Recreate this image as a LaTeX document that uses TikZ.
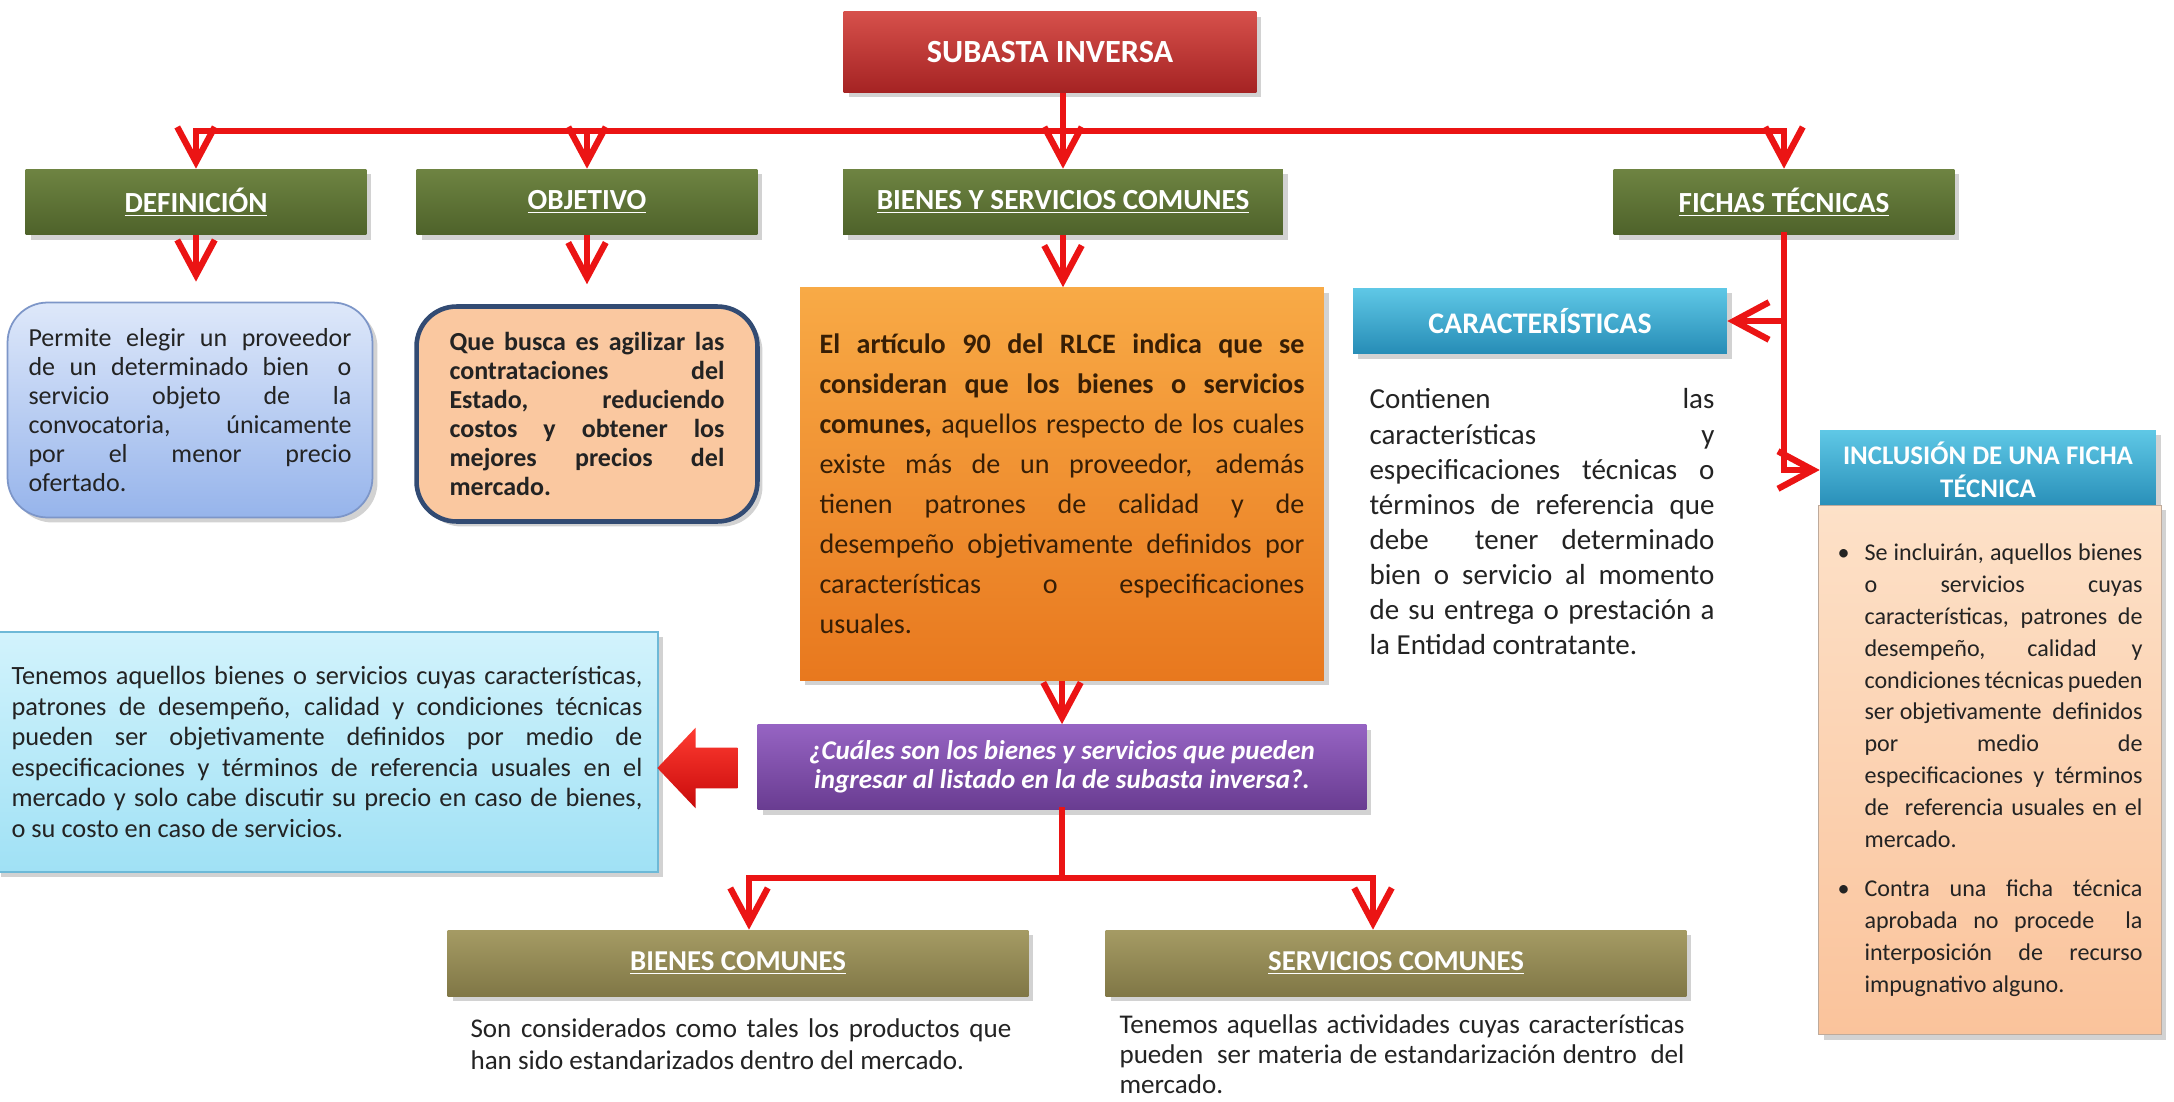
\documentclass[tikz,border=0pt]{standalone}
\usepackage{fontspec}
\setmainfont{Carlito}
\usepackage{tikz}
\usetikzlibrary{arrows.meta, shadows, shapes.arrows}

\definecolor{linkred}{RGB}{235,20,20}
\definecolor{subtop}{RGB}{214,80,75}
\definecolor{subbot}{RGB}{165,35,35}
\definecolor{olivetop}{RGB}{110,132,66}
\definecolor{olivebot}{RGB}{78,98,42}
\definecolor{khakitop}{RGB}{165,155,100}
\definecolor{khakibot}{RGB}{128,119,70}
\definecolor{bluetop}{RGB}{95,200,230}
\definecolor{bluebot}{RGB}{38,140,182}
\definecolor{permtop}{RGB}{222,232,250}
\definecolor{permbot}{RGB}{150,180,235}
\definecolor{permline}{RGB}{125,150,200}
\definecolor{quefill}{RGB}{250,200,160}
\definecolor{queline}{RGB}{50,75,115}
\definecolor{oratop}{RGB}{248,170,70}
\definecolor{orabot}{RGB}{232,120,30}
\definecolor{oratext}{RGB}{55,30,5}
\definecolor{paletop}{RGB}{253,225,200}
\definecolor{palebot}{RGB}{250,195,155}
\definecolor{paleline}{RGB}{190,170,155}
\definecolor{lbtop}{RGB}{210,243,252}
\definecolor{lbbot}{RGB}{160,225,245}
\definecolor{lbline}{RGB}{110,185,215}
\definecolor{purtop}{RGB}{150,100,195}
\definecolor{purbot}{RGB}{105,60,145}
\definecolor{blktop}{RGB}{255,60,50}
\definecolor{blkbot}{RGB}{200,10,10}
\definecolor{bodytext}{RGB}{35,35,35}

\begin{document}
\begin{tikzpicture}[x = 0.02cm, y = -0.02cm,
    box/.style = {draw=none, inner sep=0pt, drop shadow={shadow xshift=0.1cm, shadow yshift=-0.1cm, opacity=0.35}},
    title/.style = {box, text=white, align=center, minimum height=1.32cm, font=\fontsize{16.6pt}{19pt}\selectfont\bfseries},
    greenhead/.style = {title, top color=olivetop, bottom color=olivebot},
    khakihead/.style = {title, top color=khakitop, bottom color=khakibot, minimum width=11.62cm},
    bluehead/.style = {title, top color=bluetop, bottom color=bluebot},
    body/.style = {align=justify, text=bodytext, font=\fontsize{14.8pt}{16.5pt}\selectfont},
    link/.style = {draw=linkred, line width=3.6pt, -{Straight Barb[length=0.7cm, width=0.75cm]}},
    bar/.style = {draw=linkred, line width=3.6pt, line cap=rect}]
      \path [use as bounding box, fill=white] (0, 0) rectangle (2174, 1102);

      \node [title, top color=subtop, bottom color=subbot, minimum width=8.26cm, minimum height=1.62cm,
             font=\fontsize{18.4pt}{21pt}\selectfont\bfseries] (subasta) at (1050, 52) {SUBASTA INVERSA};

      \node [greenhead, minimum width=6.82cm] (def) at (196, 202) {\underline{DEFINICIÓN}};
      \node [greenhead, minimum width=6.82cm] (obj) at (587, 202) {\underline{OBJETIVO}};
      \node [greenhead, minimum width=8.8cm] (bys) at (1063, 202) {\underline{BIENES Y SERVICIOS COMUNES}};
      \node [greenhead, minimum width=6.82cm] (fic) at (1784, 202) {\underline{FICHAS TÉCNICAS}};

      \node [box, body, rounded corners=0.8cm, draw=permline, line width=1pt, top color=permtop, bottom color=permbot,
             minimum width=7.3cm, minimum height=4.3cm, text width=6.46cm] (perm) at (190, 410)
            {Permite elegir un proveedor\linebreak de un determinado bien\ \ o\linebreak servicio objeto de la\linebreak
             convocatoria, únicamente\linebreak por el menor precio\linebreak ofertado.};
      \node [box, body, rounded corners=0.8cm, draw=queline, line width=2.6pt, fill=quefill,
             minimum width=6.82cm, minimum height=4.3cm, text width=5.5cm,
             font=\fontsize{14.8pt}{16.5pt}\selectfont\bfseries] (que) at (587, 414)
            {Que busca es agilizar las\linebreak contrataciones del\linebreak Estado, reduciendo\linebreak
             costos y obtener los\linebreak mejores precios del\linebreak mercado.};
      \node [box, body, top color=oratop, bottom color=orabot, text=oratext,
             minimum width=10.48cm, minimum height=7.86cm, text width=9.7cm,
             font=\fontsize{16pt}{22.8pt}\selectfont] (ora) at (1062, 484)
            {\textbf{El artículo 90 del RLCE indica que se\linebreak consideran que los bienes o servicios\linebreak
             comunes,} aquellos respecto de los cuales\linebreak existe más de un proveedor, además\linebreak
             tienen patrones de calidad y de\linebreak desempeño objetivamente definidos por\linebreak
             características o especificaciones\linebreak usuales.};

      \node [bluehead, minimum width=7.48cm, font=\fontsize{17pt}{19pt}\selectfont\bfseries] (car) at (1540, 321) {CARACTERÍSTICAS};
      \node [body, text width=6.9cm, font=\fontsize{16.5pt}{20pt}\selectfont] (cont) at (1542, 522)
            {Contienen las\linebreak características y\linebreak especificaciones técnicas o\linebreak
             términos de referencia que\linebreak debe\ \ tener determinado\linebreak bien o servicio al momento\linebreak
             de su entrega o prestación a\linebreak la Entidad contratante.};

      \node [bluehead, minimum width=6.72cm, minimum height=1.6cm, font=\fontsize{15.3pt}{18.5pt}\selectfont\bfseries] (inc) at (1988, 470)
            {INCLUSIÓN DE UNA FICHA\\ TÉCNICA};
      \node [box, body, draw=paleline, line width=0.6pt, top color=paletop, bottom color=palebot,
             minimum width=6.86cm, minimum height=10.6cm, text width=6.1cm,
             font=\fontsize{13.7pt}{18.2pt}\selectfont] (fbody) at (1990, 770)
            {\makebox[0.54cm][l]{\textbullet}\parbox[t]{5.56cm}{Se incluirán, aquellos bienes\linebreak o servicios cuyas\linebreak
             características, patrones de\linebreak desempeño, calidad y\linebreak condiciones técnicas pueden\linebreak
             ser objetivamente\ \ definidos\linebreak por medio de\linebreak especificaciones y términos\linebreak
             de\ \ referencia usuales en el\linebreak mercado.}\par\vspace{0.6cm}
             \makebox[0.54cm][l]{\textbullet}\parbox[t]{5.56cm}{Contra una ficha técnica\linebreak aprobada no procede\ \ la\linebreak
             interposición de recurso\linebreak impugnativo alguno.}};

      \node [box, body, draw=lbline, line width=1pt, top color=lbtop, bottom color=lbbot,
             minimum width=13.24cm, minimum height=4.8cm, text width=12.62cm,
             font=\fontsize{15pt}{17.4pt}\selectfont] (lb) at (327, 752)
            {Tenemos aquellos bienes o servicios cuyas características,\linebreak patrones de desempeño, calidad y condiciones técnicas\linebreak
             pueden ser objetivamente definidos por medio de\linebreak especificaciones y términos de referencia usuales en el\linebreak
             mercado y solo cabe discutir su precio en caso de bienes,\linebreak o su costo en caso de servicios.};
      \node [shape=single arrow, shape border rotate=180, draw=none, top color=blktop, bottom color=blkbot,
             inner xsep=0pt, inner ysep=0.4cm, minimum width=1.6cm, minimum height=1.6cm, single arrow head extend=0.4cm,
             single arrow tip angle=93] (blk) at (707, 768) {};
      \node [title, top color=purtop, bottom color=purbot, minimum width=12.18cm, minimum height=1.7cm,
             font=\fontsize{15.4pt}{16.2pt}\selectfont\bfseries\itshape] (pur) at (1062, 767)
            {¿Cuáles son los bienes y servicios que pueden\\ ingresar al listado en la de subasta inversa?.};

      \node [khakihead, font=\fontsize{16.4pt}{19pt}\selectfont\bfseries] (bc) at (738, 963) {\underline{BIENES COMUNES}};
      \node [khakihead, font=\fontsize{16.4pt}{19pt}\selectfont\bfseries] (sc) at (1396, 963) {\underline{SERVICIOS COMUNES}};
      \node [body, text width=10.82cm, font=\fontsize{15.4pt}{18pt}\selectfont] (bct) at (741, 1044)
            {Son considerados como tales los productos que\linebreak han sido estandarizados dentro del mercado.};
      \node [body, text width=11.3cm, font=\fontsize{15.4pt}{17pt}\selectfont] (sct) at (1402, 1054)
            {Tenemos aquellas actividades cuyas características\linebreak pueden\ \ ser materia de estandarización dentro\ \ del\linebreak mercado.};

      \coordinate (bar) at (0, 131);
      \coordinate (split) at (0, 878);
      \coordinate (lft) at (749, 878);
      \coordinate (rgt) at (1373, 878);

      \draw [link] (subasta.south -| bys.north) -- (bys.north);
      \draw [bar] (def.north |- bar) -- (fic.north |- bar);
      \foreach \n in {def, obj, fic}
               {
                 \draw [link] (\n.north |- bar) -- (\n.north);
               }
      \foreach \n/\m in {def/perm, obj/que}
               {
                 \draw [link, shorten >= 0.4cm] (\n.south) -- (\n.south |- \m.north);
               }
      \draw [link] (bys.south) -- (bys.south |- ora.north);
      \draw [bar] (fic.south) -- (fic.south |- inc.west);
      \draw [link] (fic.south |- car.east) -- (car.east);
      \draw [link] (fic.south |- inc.west) -- (inc.west);
      \draw [link] (ora.south) -- (ora.south |- pur.north);
      \draw [bar] (pur.south) -- (pur.south |- split);
      \draw [bar] (lft) -- (rgt);
      \foreach \n/\m in {lft/bc, rgt/sc}
               {
                 \draw [link] (\n) -- (\n |- \m.north);
               }
\end{tikzpicture}
\end{document}
